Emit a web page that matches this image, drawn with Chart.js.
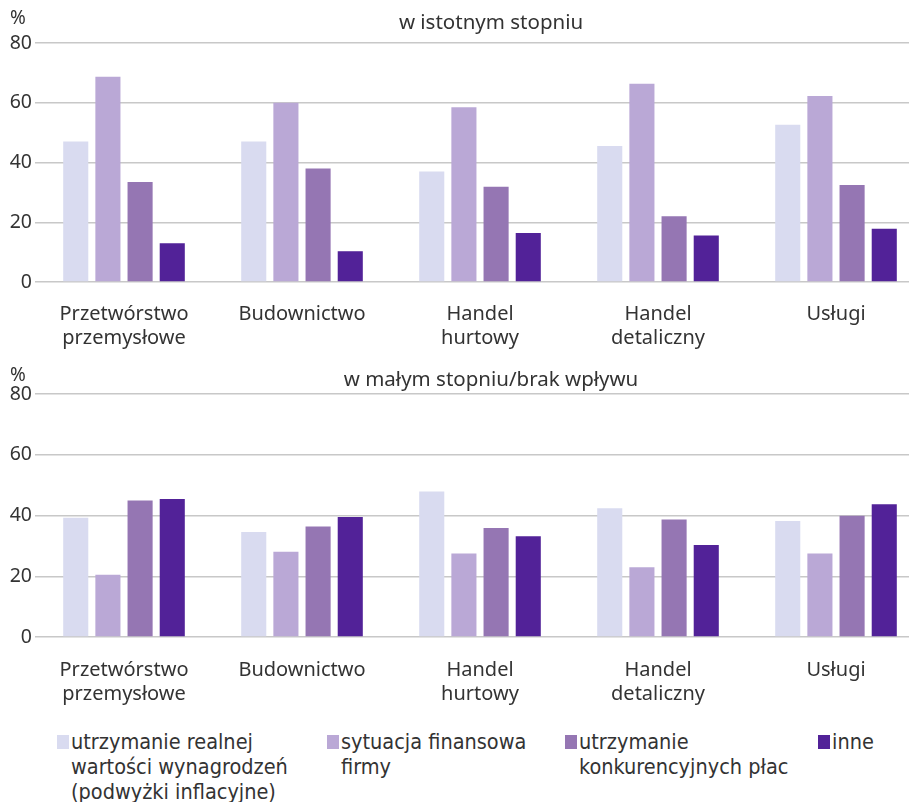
<!DOCTYPE html>
<html>
<head>
<meta charset="utf-8">
<script src="https://cdn.jsdelivr.net/npm/chart.js@4"></script>
<style>
  html, body { margin: 0; padding: 0; background: #fff; overflow: hidden; }
  body { width: 909px; height: 802px; position: relative; }
  canvas { display: block; }
  .legend { position: absolute; top: 729px; left: 0; width: 909px; height: 73px;
    font-family: "Liberation Sans Narrow", "DejaVu Sans Condensed", sans-serif; font-stretch: condensed;
    font-size: 21.5px; line-height: 25px; color: #333; }
  .item { position: absolute; top: 0; }
  .item span.sw { position: absolute; left: 0; top: 6px; width: 12px; height: 14px; }
  .item div { margin-left: 14px; white-space: nowrap; }
</style>
</head>
<body>
<canvas id="c1" width="925" height="355"></canvas>
<canvas id="c2" width="925" height="355"></canvas>
<div class="legend" id="legend"></div>
<script>
// kategorie
var categories = [['Przetwórstwo', 'przemysłowe'], 'Budownictwo', ['Handel', 'hurtowy'], ['Handel', 'detaliczny'], 'Usługi'];
var seriesNames = [['utrzymanie realnej', 'wartości wynagrodzeń', '(podwyżki inflacyjne)'], ['sytuacja finansowa', 'firmy'], ['utrzymanie', 'konkurencyjnych płac'], ['inne']];
var colors = ['#d9dbf0', '#baa8d6', '#9576b3', '#522298'];
var yTicks = [0, 20, 40, 60, 80];

// w istotnym stopniu
var top1 = [47, 47, 37, 45.5, 52.6];
var top2 = [68.7, 60, 58.5, 66.4, 62.3];
var top3 = [33.5, 38, 31.9, 22, 32.5];
var top4 = [13, 10.3, 16.4, 15.6, 17.8];

// w małym stopniu / brak wpływu
var bot1 = [39.3, 34.6, 47.9, 42.4, 38.2];
var bot2 = [20.5, 28.1, 27.5, 23, 27.5];
var bot3 = [44.9, 36.4, 35.9, 38.7, 39.9];
var bot4 = [45.4, 39.5, 33.2, 30.3, 43.7];

var font = '"Noto Sans", "Open Sans", sans-serif';
var textColor = '#333';

// napisy nad wykresem: "%" i tytuł
var headerPlugin = {
  id: 'header',
  afterDraw: function (chart, args, opts) {
    var ctx = chart.ctx;
    ctx.save();
    ctx.fillStyle = textColor;
    ctx.textBaseline = 'middle';
    ctx.textAlign = 'left';
    ctx.font = '19px ' + font;
    ctx.fillText('%', 10, chart.chartArea.top - opts.pctOffset);
    ctx.textAlign = 'center';
    ctx.font = '20.5px ' + font;
    ctx.fillText(opts.text, 491, chart.chartArea.top - opts.titleOffset);
    ctx.restore();
  }
};

function makeChart(id, data, title, padTop, pctOffset, titleOffset, xPad) {
  var ds = data.map(function (vals, i) {
    return {
      label: seriesNames[i].join(' '),
      data: vals,
      backgroundColor: colors[i],
      borderWidth: 0,
      categoryPercentage: 0.723,
      barPercentage: 0.78
    };
  });
  return new Chart(document.getElementById(id), {
    type: 'bar',
    data: { labels: categories, datasets: ds },
    plugins: [headerPlugin],
    options: {
      responsive: false,
      animation: false,
      layout: { padding: { top: padTop, left: 0, right: 0, bottom: 0 } },
      plugins: {
        legend: { display: false },
        tooltip: { enabled: false },
        header: { text: title, pctOffset: pctOffset, titleOffset: titleOffset }
      },
      scales: {
        x: {
          grid: { display: false },
          border: { display: false },
          ticks: { color: textColor, font: { family: font, size: 20, lineHeight: 1.22 }, padding: xPad, maxRotation: 0, autoSkip: false },
          afterFit: function (s) { s.height = 73; }
        },
        y: {
          min: 0, max: 80,
          afterBuildTicks: function (s) { s.ticks = yTicks.map(function (v) { return { value: v }; }); },
          grid: { color: '#c8c8c8', lineWidth: 1.5, drawTicks: false },
          border: { display: false },
          ticks: { color: textColor, font: { family: font, size: 19.5 }, padding: 3 },
          afterFit: function (s) { s.width = 35; }
        }
      }
    }
  });
}

makeChart('c1', [top1, top2, top3, top4], 'w istotnym stopniu', 43, 24, 20, 12);
makeChart('c2', [bot1, bot2, bot3, bot4], 'w małym stopniu/brak wpływu', 39, 18, 14, 13);

// legenda
var legendX = [57, 327, 565, 818];
var legend = document.getElementById('legend');
seriesNames.forEach(function (lines, i) {
  var item = document.createElement('div');
  item.className = 'item';
  item.style.left = legendX[i] + 'px';
  item.innerHTML = '<span class="sw" style="background:' + colors[i] + '"></span><div>' + lines.join('<br>') + '</div>';
  legend.appendChild(item);
});
</script>
</body>
</html>
